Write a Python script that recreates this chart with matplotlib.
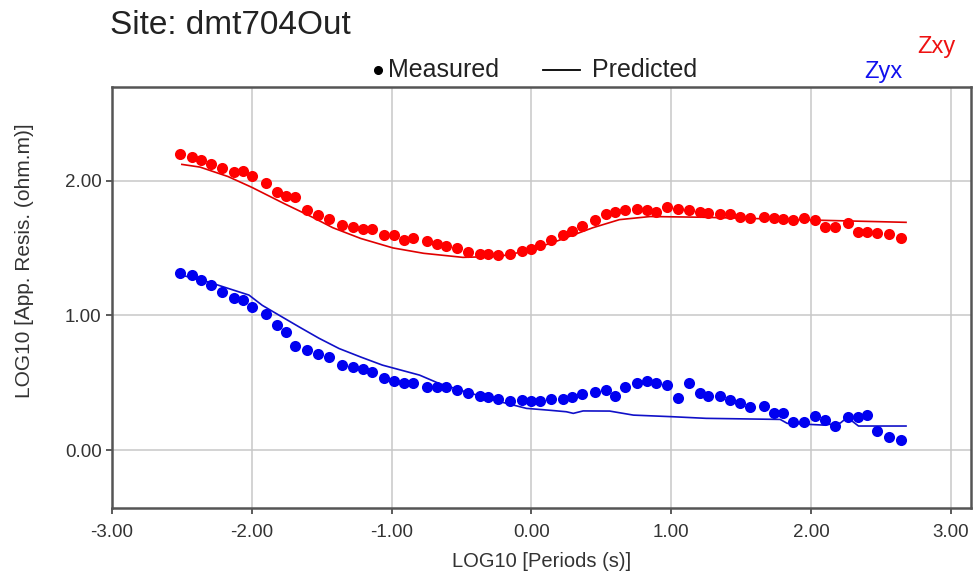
import matplotlib.pyplot as plt
from matplotlib.lines import Line2D
import matplotlib.ticker as mticker

plt.rcParams['font.family'] = ['Liberation Sans', 'DejaVu Sans']
plt.rcParams['axes.unicode_minus'] = False

# log10 period of each measured sample (shared by both modes)
log_period = [-2.515, -2.425, -2.365, -2.293, -2.210, -2.126, -2.066, -1.995, -1.899, -1.816,
              -1.756, -1.689, -1.608, -1.524, -1.445, -1.354, -1.278, -1.206, -1.139, -1.051,
              -0.979, -0.914, -0.847, -0.747, -0.676, -0.608, -0.532, -0.453, -0.369, -0.309,
              -0.238, -0.154, -0.070, 0.001, 0.061, 0.140, 0.224, 0.288, 0.360, 0.455,
              0.534, 0.598, 0.670, 0.754, 0.825, 0.892, 0.969, 1.052, 1.131, 1.203,
              1.267, 1.351, 1.423, 1.494, 1.566, 1.662, 1.733, 1.800, 1.872, 1.953,
              2.032, 2.097, 2.175, 2.264, 2.336, 2.403, 2.475, 2.558, 2.642]

zxy_measured = [2.198, 2.178, 2.153, 2.123, 2.094, 2.067, 2.074, 2.032, 1.983, 1.913,
                1.889, 1.876, 1.778, 1.741, 1.716, 1.667, 1.659, 1.642, 1.637, 1.593,
                1.598, 1.556, 1.576, 1.550, 1.531, 1.513, 1.501, 1.469, 1.457, 1.452,
                1.444, 1.457, 1.476, 1.494, 1.519, 1.561, 1.593, 1.625, 1.662, 1.709,
                1.753, 1.765, 1.785, 1.790, 1.778, 1.765, 1.807, 1.790, 1.778, 1.765,
                1.760, 1.753, 1.753, 1.728, 1.723, 1.728, 1.723, 1.716, 1.704, 1.723,
                1.704, 1.654, 1.654, 1.686, 1.617, 1.617, 1.612, 1.605, 1.575]

zyx_measured = [1.313, 1.296, 1.259, 1.222, 1.173, 1.128, 1.111, 1.062, 1.012, 0.926,
                0.876, 0.773, 0.746, 0.711, 0.687, 0.630, 0.617, 0.598, 0.576, 0.531,
                0.513, 0.498, 0.494, 0.469, 0.469, 0.464, 0.449, 0.420, 0.400, 0.390,
                0.375, 0.365, 0.370, 0.365, 0.365, 0.378, 0.375, 0.390, 0.415, 0.432,
                0.444, 0.400, 0.464, 0.499, 0.514, 0.499, 0.481, 0.383, 0.499, 0.420,
                0.400, 0.400, 0.370, 0.351, 0.321, 0.328, 0.272, 0.272, 0.210, 0.210,
                0.252, 0.222, 0.178, 0.242, 0.242, 0.259, 0.143, 0.094, 0.074]

# model response curves
zxy_pred_period = [-2.50, -2.37, -2.17, -2.00, -1.77, -1.57, -1.42, -1.22, -0.99, -0.77,
                   -0.49, -0.23, -0.02, 0.18, 0.44, 0.63, 0.85, 1.21, 1.53, 1.92, 2.28, 2.68]
zxy_pred = [2.12, 2.10, 2.03, 1.95, 1.83, 1.73, 1.65, 1.57, 1.50, 1.46,
            1.43, 1.437, 1.48, 1.55, 1.65, 1.71, 1.733, 1.728, 1.72, 1.709, 1.70, 1.69]

zyx_pred_period = [-2.51, -2.31, -2.17, -2.02, -1.925, -1.82, -1.66, -1.52, -1.375, -1.22,
                   -1.065, -0.80, -0.66, -0.47, -0.23, -0.035, 0.12, 0.25, 0.30, 0.37,
                   0.56, 0.73, 1.01, 1.25, 1.78, 1.83, 2.09, 2.21, 2.26, 2.34, 2.68]
zyx_pred = [1.30, 1.247, 1.20, 1.15, 1.074, 1.01, 0.913, 0.83, 0.753, 0.69,
            0.63, 0.556, 0.494, 0.432, 0.36, 0.309, 0.296, 0.284, 0.272, 0.29,
            0.289, 0.259, 0.247, 0.235, 0.227, 0.198, 0.185, 0.20, 0.242, 0.178, 0.178]

x_ticks = [-3, -2, -1, 0, 1, 2, 3]
y_ticks = [0, 1, 2]

W, H = 977, 574
fig = plt.figure(figsize=(W / 100, H / 100), dpi=100)
ax = fig.add_axes([0.1146, 0.1144, 0.879, 0.7346])

ax.plot(zxy_pred_period, zxy_pred, color='#e00000', lw=1.2, zorder=3)
ax.plot(zyx_pred_period, zyx_pred, color='#1010c8', lw=1.2, zorder=3)
ax.plot(log_period, zxy_measured, 'o', color='#ff0000', ms=8, mec='none', zorder=4)
ax.plot(log_period, zyx_measured, 'o', color='#0000f0', ms=8, mec='none', zorder=4)

ax.set_xlim(-3.0, 3.143)
ax.set_ylim(-0.433, 2.697)
ax.set_xticks(x_ticks)
ax.set_yticks(y_ticks)
ax.xaxis.set_major_formatter(mticker.FormatStrFormatter('%.2f'))
ax.yaxis.set_major_formatter(mticker.FormatStrFormatter('%.2f'))
ax.tick_params(labelsize=13.5, length=4, width=1.2, color='#404040', labelcolor='#333333')
ax.tick_params(axis='x', pad=7)
ax.grid(True, color='#c8c8c8', lw=1.1)
ax.set_axisbelow(True)
for s in ax.spines.values():
    s.set_color('#555555')
    s.set_linewidth(1.8)

ax.set_xlabel('LOG10 [Periods (s)]', fontsize=14.5, color='#333333', labelpad=8)
fig.text(25 / W, 1 - 261 / H, 'LOG10 [App. Resis. (ohm.m)]', fontsize=15, color='#333333',
         rotation=90, ha='center', va='center')

fig.text(110 / W, 1 - 26 / H, 'Site: dmt704Out', fontsize=24, color='#222222',
         va='center', ha='left')
fig.text(936 / W, 1 - 47 / H, 'Zxy', fontsize=17, color='#ee1111', ha='center', va='center')
fig.text(883 / W, 1 - 72 / H, 'Zyx', fontsize=17, color='#1111ee', ha='center', va='center')

# key above the plot: dot = measured, line = predicted
ky = 1 - 70 / H
fig.add_artist(Line2D([378 / W], [ky], marker='o', color='black', ms=5.5, ls='none'))
fig.text(388 / W, ky, 'Measured', fontsize=18, color='#222222', ha='left', va='center')
fig.add_artist(Line2D([543 / W, 580 / W], [ky, ky], color='black', lw=1.3))
fig.text(592 / W, ky, 'Predicted', fontsize=18, color='#222222', ha='left', va='center')

fig.savefig('out.png', dpi=100)
